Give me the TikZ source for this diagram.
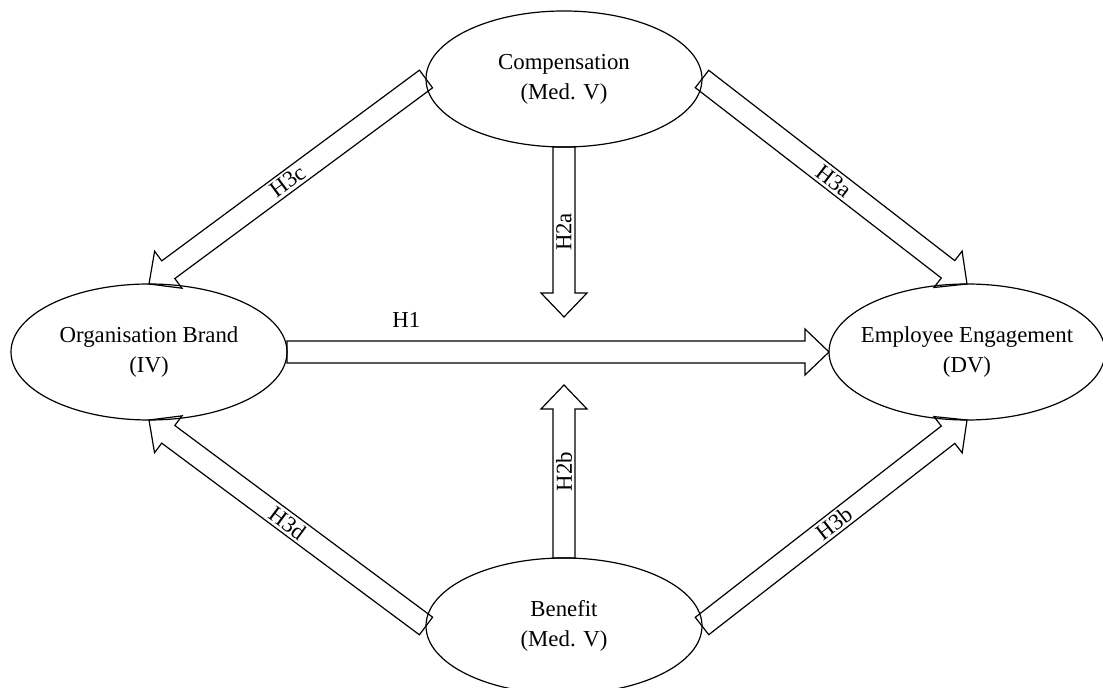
\documentclass[tikz,border=0pt]{standalone}
\usepackage{fontspec}
\setmainfont{Liberation Serif}
\usetikzlibrary{shapes.geometric,calc}

\begin{document}
\begin{tikzpicture}[x=0.5pt, y=-0.5pt,
    factor/.style={ellipse, draw, line width=0.6pt, minimum width=138pt,
      minimum height=68pt, inner sep=0pt, outer sep=0pt},
    hyp/.style={draw, fill=white, line width=0.6pt, line join=miter,
      to path={let \p1=($(\tikztotarget)!12pt!(\tikztostart)$) in
        ($(\tikztostart)!5.5pt!90:(\tikztotarget)$) -- ($(\p1)!5.5pt!90:(\tikztotarget)$)
        -- ($(\p1)!11.5pt!90:(\tikztotarget)$) -- (\tikztotarget)
        -- ($(\p1)!11.5pt!-90:(\tikztotarget)$) -- ($(\p1)!5.5pt!-90:(\tikztotarget)$)
        -- ($(\tikztostart)!5.5pt!-90:(\tikztotarget)$) -- cycle}},
    lbl/.style={font=\fontsize{11.4}{15}\selectfont, inner sep=1pt}]
  \useasboundingbox (0,0) rectangle (1103,688);

  \begin{scope}[every label/.style={lbl, align=center}]
    \node[factor, label=center:{Compensation\\(Med. V)}] (comp) at (564,79) {};
    \node[factor, label=center:{Organisation Brand\\(IV)}] (org) at (149,352) {};
    \node[factor, label=center:{Employee Engagement\\(DV)}] (eng) at (967,352) {};
    \node[factor, label=center:{Benefit\\(Med. V)}] (ben) at (564,626) {};
  \end{scope}
  \coordinate (h2a) at (564,317);
  \coordinate (h2b) at (564,385);

  \begin{scope}[hyp]
    \draw (org.east) to (eng.west);
    \draw (comp.south) to (h2a);
    \draw (ben.north) to (h2b);
    \draw (comp.east) to (eng.north);
    \draw (ben.east) to (eng.south);
    \draw (comp.west) to (org.north);
    \draw (ben.west) to (org.south);
  \end{scope}

  \begin{scope}[every node/.style={lbl}]
    \path (org.east) -- node[pos=0.22, yshift=16pt] {H1} (eng.west);
    \path (comp.south) -- node[midway, rotate=90] {H2a} (h2a);
    \path (ben.north) -- node[midway, rotate=90] {H2b} (h2b);
    \path (comp.east) -- node[midway, sloped] {H3a} (eng.north);
    \path (ben.east) -- node[midway, sloped] {H3b} (eng.south);
    \path (comp.west) -- node[midway, sloped] {H3c} (org.north);
    \path (ben.west) -- node[midway, sloped] {H3d} (org.south);
  \end{scope}
\end{tikzpicture}
\end{document}
